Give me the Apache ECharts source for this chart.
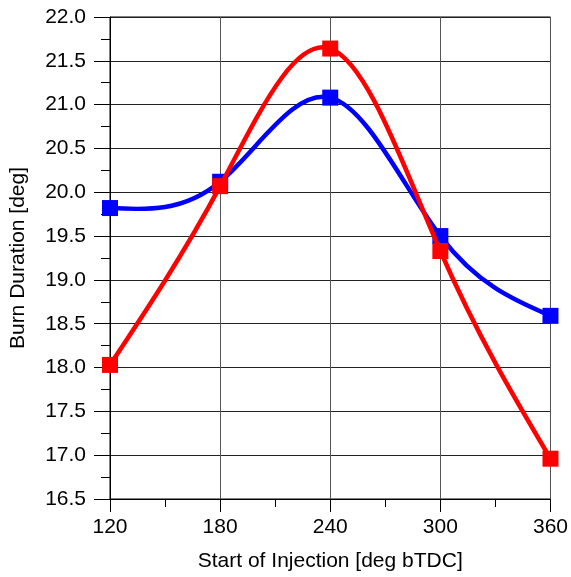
<!DOCTYPE html>
<html>
<head>
<meta charset="utf-8">
<script src="https://cdn.jsdelivr.net/npm/echarts@6/dist/echarts.min.js"></script>
<style>
  html, body { margin: 0; padding: 0; background: #fff; }
  #chart { width: 571px; height: 577px; }
</style>
</head>
<body>
<div id="chart"></div>
<script>
// Start of injection (deg bTDC)
const injectionTiming = [120, 180, 240, 300, 360];
// Burn duration (deg) for the two cases
const burnBlue = [19.82, 20.12, 21.08, 19.50, 18.59];
const burnRed  = [18.03, 20.07, 21.64, 19.33, 16.96];

const yMin = 16.5, yMax = 22.0, yStep = 0.5;
const xMin = 120, xMax = 360, xStep = 60;

const FONT = 'Liberation Sans, Arial, sans-serif';

function pairs(xs, ys) {
  return xs.map((x, i) => [x, ys[i]]);
}

// Natural cubic spline: second derivatives at the knots (tridiagonal solve)
function splineMoments(xs, ys) {
  const n = xs.length;
  const M = new Array(n).fill(0);
  if (n < 3) return M;
  const h = [];
  for (let i = 0; i < n - 1; i++) h.push(xs[i + 1] - xs[i]);
  const a = [], b = [], c = [], r = [];
  for (let i = 1; i < n - 1; i++) {
    a.push(h[i - 1]);
    b.push(2 * (h[i - 1] + h[i]));
    c.push(h[i]);
    r.push(6 * ((ys[i + 1] - ys[i]) / h[i] - (ys[i] - ys[i - 1]) / h[i - 1]));
  }
  const m = b.length;
  for (let i = 1; i < m; i++) {
    const w = a[i] / b[i - 1];
    b[i] -= w * c[i - 1];
    r[i] -= w * r[i - 1];
  }
  const sol = new Array(m);
  sol[m - 1] = r[m - 1] / b[m - 1];
  for (let i = m - 2; i >= 0; i--) sol[i] = (r[i] - c[i] * sol[i + 1]) / b[i];
  for (let i = 0; i < m; i++) M[i + 1] = sol[i];
  return M;
}

// Each spline piece as a cubic Bezier segment in data space
function splineSegments(xs, ys) {
  const M = splineMoments(xs, ys);
  const segs = [];
  for (let i = 0; i < xs.length - 1; i++) {
    const h = xs[i + 1] - xs[i];
    const s = (ys[i + 1] - ys[i]) / h;
    const dL = s - h * (2 * M[i] + M[i + 1]) / 6;
    const dR = s + h * (M[i] + 2 * M[i + 1]) / 6;
    segs.push({
      p0: [xs[i], ys[i]],
      c1: [xs[i] + h / 3, ys[i] + dL * h / 3],
      c2: [xs[i + 1] - h / 3, ys[i + 1] - dR * h / 3],
      p1: [xs[i + 1], ys[i + 1]]
    });
  }
  return segs;
}

function curveSeries(xs, ys, color, z) {
  const segs = splineSegments(xs, ys);
  return {
    type: 'custom',
    coordinateSystem: 'cartesian2d',
    data: pairs(xs, ys),
    encode: { x: 0, y: 1 },
    z: z,
    silent: true,
    renderItem: function (params, api) {
      const seg = segs[params.dataIndex];
      if (!seg) return { type: 'group', children: [] };
      const p0 = api.coord(seg.p0), c1 = api.coord(seg.c1);
      const c2 = api.coord(seg.c2), p1 = api.coord(seg.p1);
      return {
        type: 'bezierCurve',
        shape: {
          x1: p0[0], y1: p0[1], x2: p1[0], y2: p1[1],
          cpx1: c1[0], cpy1: c1[1], cpx2: c2[0], cpy2: c2[1]
        },
        style: { stroke: color, lineWidth: 4.5, fill: null, lineCap: 'round' }
      };
    }
  };
}

function markerSeries(xs, ys, color, z) {
  return {
    type: 'scatter',
    data: pairs(xs, ys),
    symbol: 'rect',
    symbolSize: 16,
    itemStyle: { color: color, opacity: 1 },
    z: z
  };
}

const chart = echarts.init(document.getElementById('chart'), null, { renderer: 'canvas' });

chart.setOption({
  animation: false,
  backgroundColor: '#fff',
  grid: {
    left: 109, right: 19, top: 17, bottom: 78,
    show: true, borderColor: '#000', borderWidth: 1,
    backgroundColor: 'transparent'
  },
  xAxis: {
    type: 'value',
    min: xMin, max: xMax, interval: xStep,
    name: 'Start of Injection [deg bTDC]',
    nameLocation: 'middle',
    nameGap: 52,
    nameTextStyle: { fontFamily: FONT, fontSize: 21, color: '#000' },
    axisLine: { show: true, lineStyle: { color: '#000', width: 1 } },
    axisTick: { show: true, inside: false, length: 13, lineStyle: { color: '#000' } },
    minorTick: { show: true, splitNumber: 2, length: 8, lineStyle: { color: '#000' } },
    axisLabel: { fontFamily: FONT, fontSize: 21, color: '#000', margin: 18 },
    splitLine: { show: true, lineStyle: { color: '#555', width: 1 } }
  },
  yAxis: {
    type: 'value',
    min: yMin, max: yMax, interval: yStep,
    name: 'Burn Duration [deg]',
    nameLocation: 'middle',
    nameGap: 81,
    nameRotate: 90,
    nameTextStyle: { fontFamily: FONT, fontSize: 21, color: '#000' },
    axisLine: { show: true, lineStyle: { color: '#000', width: 1 } },
    axisTick: { show: true, inside: false, length: 16, lineStyle: { color: '#000' } },
    minorTick: { show: true, splitNumber: 2, length: 9, lineStyle: { color: '#000' } },
    axisLabel: {
      fontFamily: FONT, fontSize: 21, color: '#000', margin: 24,
      formatter: v => v.toFixed(1)
    },
    splitLine: { show: true, lineStyle: { color: '#222', width: 1 } }
  },
  series: [
    curveSeries(injectionTiming, burnBlue, '#0000ff', 2),
    markerSeries(injectionTiming, burnBlue, '#0000ff', 3),
    curveSeries(injectionTiming, burnRed, '#ff0000', 4),
    markerSeries(injectionTiming, burnRed, '#ff0000', 5)
  ]
});
</script>
</body>
</html>
